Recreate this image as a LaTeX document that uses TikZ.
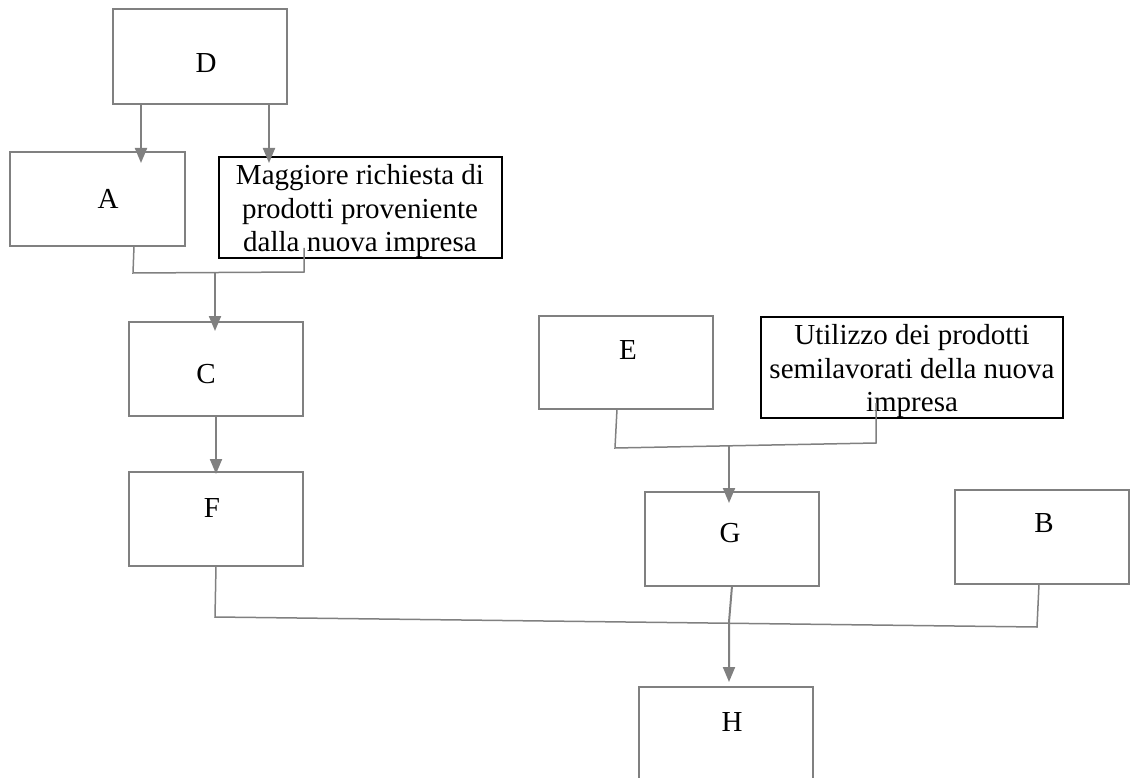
\documentclass[tikz,border=0pt]{standalone}
\usepackage{fontspec}
\setmainfont{Liberation Serif}
\usetikzlibrary{arrows.meta}
\begin{document}
\begin{tikzpicture}[x=1pt,y=-1pt,
  box/.style={draw=gray, line width=1.6pt, rectangle, inner sep=0pt, outer sep=0pt, minimum width=174pt, minimum height=94pt},
  bbox/.style={draw=black, line width=2pt, rectangle, inner sep=0pt, outer sep=0pt},
  lbl/.style={font=\fontsize{29}{33.5}\selectfont, inner sep=0pt, text height=19.2pt, text depth=0pt},
  mlbl/.style={font=\fontsize{29}{33.5}\selectfont, inner sep=0pt, align=center},
  joinline/.style={draw=gray, line width=1.5pt},
  arr/.style={draw=gray, line width=2pt, -{Triangle[length=15pt,width=12pt]}}
]
\useasboundingbox (0,0) rectangle (1130,778);
\clip (0,0) rectangle (1130,778);

% boxes
\node[box, minimum height=95pt] (D) at (200,56.5) {};
\node[box, minimum width=175pt] (A) at (97.5,199) {};
\node[bbox, minimum width=283pt, minimum height=101pt] (M) at (360.5,207.5) {};
\node[box] (C) at (216,369) {};
\node[box] (F) at (216,519) {};
\node[box, minimum height=93pt] (E) at (626,362.5) {};
\node[bbox, minimum width=302pt, minimum height=101pt] (U) at (912,367.5) {};
\node[box] (G) at (732,539) {};
\node[box] (B) at (1042,537) {};
\node[box] (H) at (726,734) {};

% labels
\node[lbl] (Dt) at (206,63) {D};
\node[lbl] (At) at (108,199) {A};
\node[lbl] (Ct) at (206,374) {C};
\node[lbl] (Ft) at (212,508) {F};
\node[lbl] (Et) at (628,350) {E};
\node[lbl] (Gt) at (730,533) {G};
\node[lbl] (Bt) at (1044,523) {B};
\node[lbl] (Ht) at (732,722) {H};
\node[mlbl] (Mt) at (360,211.5) {Maggiore richiesta di\\prodotti proveniente\\dalla nuova impresa};
\node[mlbl] (Ut) at (912,371.5) {Utilizzo dei prodotti\\semilavorati della nuova\\impresa};

% arrows from D
\coordinate (d1) at ([xshift=28pt]D.south west);
\coordinate (d2) at ([xshift=156pt]D.south west);
\draw[arr, shorten >=-11pt] (d1) -- (d1 |- A.north);
\draw[arr, shorten >=-6pt] (d2) -- (d2 |- M.north);

% join A + M -> C
\coordinate (j1) at (133,273);
\coordinate (j2) at (304,272);
\coordinate (j3) at (215,272.5);
\draw[joinline, shorten >=-10pt] ([xshift=124pt]A.south west) -- (j1) -- (j2) -- (j2 |- M.south);
\draw[arr, shorten >=-9pt] (j3) -- (j3 |- C.north);

% C -> F
\draw[arr, shorten >=-2pt] (C.south) -- (F.north);

% join E + U -> G
\coordinate (k1) at (615,448);
\coordinate (k2) at (876,443);
\coordinate (k3) at (729,445.5);
\draw[joinline, shorten >=-15pt] ([xshift=78pt]E.south west) -- (k1) -- (k2) -- (k2 |- U.south);
\draw[arr, shorten >=-11pt] (k3) -- (k3 |- G.north);

% join F + B, G -> H
\coordinate (m1) at (215,617);
\coordinate (m2) at (1037,627);
\coordinate (m3) at (729,622);
\draw[joinline] (F.south) -- (m1) -- (m2) -- ([xshift=84pt]B.south west);
\draw[arr, shorten >=5pt] (G.south) -- (m3) -- (m3 |- H.north);
\end{tikzpicture}
\end{document}
